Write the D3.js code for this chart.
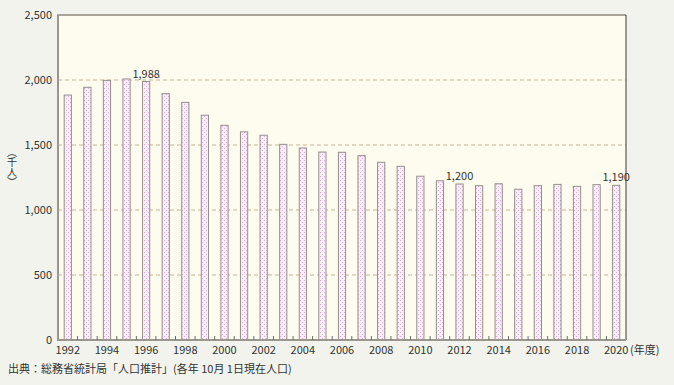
<!DOCTYPE html>
<html>
<head>
<meta charset="utf-8">
<script src="https://cdn.jsdelivr.net/npm/d3@7"></script>
<style>
  body { margin: 0; background: #f1f3ec; }
  svg { display: block; font-family: "Noto Sans CJK JP", "Noto Sans", sans-serif; }
</style>
</head>
<body>
<svg id="canvas" width="674" height="385"></svg>
<script>
/********** Data **********/
var years = d3.range(1992, 2021);
var population = [1884, 1944, 1997, 2008, 1988, 1895, 1828, 1729, 1652, 1601,
                  1575, 1505, 1477, 1446, 1444, 1418, 1367, 1336, 1260, 1225,
                  1200, 1187, 1202, 1160, 1187, 1197, 1182, 1195, 1190];
var yTicks = [0, 500, 1000, 1500, 2000, 2500];
var xLabels = d3.range(1992, 2021, 2);
var callouts = [1996, 2012, 2020];

/********** Setup **********/
var svg = d3.select("#canvas");
var plotLeft = 58, plotRight = 626, plotTop = 15, plotBottom = 340;

var x = d3.scaleBand().domain(years).range([plotLeft, plotRight]).paddingInner(0.58).paddingOuter(0.29);
var y = d3.scaleLinear().domain([0, 2500]).range([plotBottom, plotTop]);

var defs = svg.append("defs");
var pat = defs.append("pattern").attr("id", "dots")
    .attr("patternUnits", "userSpaceOnUse").attr("width", 4).attr("height", 4);
pat.append("rect").attr("width", 4).attr("height", 4).attr("fill", "#f9eef7");
pat.append("rect").attr("x", 0).attr("y", 0).attr("width", 1).attr("height", 1).attr("fill", "#d9a8d6");
pat.append("rect").attr("x", 2).attr("y", 2).attr("width", 1).attr("height", 1).attr("fill", "#d9a8d6");

// plot background
svg.append("rect").attr("x", plotLeft).attr("y", plotTop)
    .attr("width", plotRight - plotLeft).attr("height", plotBottom - plotTop)
    .attr("fill", "#fefcef");

// gridlines
svg.append("g").selectAll("line").data(yTicks.filter(function(d) { return d > 0 && d < 2500; }))
  .enter().append("line")
    .attr("x1", plotLeft).attr("x2", plotRight)
    .attr("y1", function(d) { return y(d); }).attr("y2", function(d) { return y(d); })
    .attr("stroke", "#c4b394").attr("stroke-width", 1).attr("stroke-dasharray", "4,3");

/********** Bars **********/
svg.append("g").selectAll("rect").data(years).enter().append("rect")
    .attr("x", function(d) { return x(d) + 0.5; })
    .attr("y", function(d, i) { return y(population[i]); })
    .attr("width", x.bandwidth() - 1)
    .attr("height", function(d, i) { return plotBottom - y(population[i]); })
    .attr("fill", "url(#dots)")
    .attr("stroke", "#948e8e").attr("stroke-width", 1);

/********** Frame **********/
svg.append("line").attr("x1", plotLeft - 1).attr("x2", plotRight).attr("y1", plotTop).attr("y2", plotTop)
    .attr("stroke", "#a7a59c").attr("stroke-width", 2);
svg.append("line").attr("x1", plotRight).attr("x2", plotRight).attr("y1", plotTop).attr("y2", plotBottom)
    .attr("stroke", "#3a3a3a").attr("stroke-width", 1);
svg.append("line").attr("x1", plotLeft).attr("x2", plotLeft).attr("y1", plotTop).attr("y2", plotBottom + 1)
    .attr("stroke", "#9b978f").attr("stroke-width", 2);
svg.append("line").attr("x1", plotLeft).attr("x2", plotRight).attr("y1", plotBottom).attr("y2", plotBottom)
    .attr("stroke", "#9b978f").attr("stroke-width", 2);

// x ticks at band boundaries, pointing up
var gap = x.step() - x.bandwidth();
svg.append("g").selectAll("line").data(years.slice(1)).enter().append("line")
    .attr("x1", function(d) { return x(d) - gap / 2; })
    .attr("x2", function(d) { return x(d) - gap / 2; })
    .attr("y1", plotBottom).attr("y2", plotBottom - 4)
    .attr("stroke", "#6f6b66").attr("stroke-width", 1);

/********** Labels **********/
svg.append("g").selectAll("text").data(yTicks).enter().append("text")
    .attr("x", 52).attr("y", function(d) { return y(d) + 4; })
    .attr("text-anchor", "end").attr("font-size", 11).attr("fill", "#333")
    .text(function(d) { return d3.format(",")(d); });

svg.append("g").selectAll("text").data(xLabels).enter().append("text")
    .attr("x", function(d) { return x(d) + x.bandwidth() / 2; })
    .attr("y", 354)
    .attr("text-anchor", "middle").attr("font-size", 11).attr("fill", "#333")
    .text(function(d) { return d; });

svg.append("text").attr("x", 630).attr("y", 354).attr("font-size", 11).attr("fill", "#333")
    .text("(年度)");

svg.append("g").selectAll("text").data(callouts).enter().append("text")
    .attr("x", function(d) { return x(d) + x.bandwidth() / 2; })
    .attr("y", function(d) { return y(population[years.indexOf(d)]) - 4; })
    .attr("text-anchor", "middle").attr("font-size", 11).attr("fill", "#333")
    .text(function(d) { return d3.format(",")(population[years.indexOf(d)]); });

// vertical unit label
svg.append("text")
    .attr("x", 12).attr("y", 167)
    .attr("text-anchor", "middle").attr("font-size", 10).attr("fill", "#333")
    .style("writing-mode", "vertical-rl")
    .text("（千人）");

svg.append("text").attr("x", 8).attr("y", 373).attr("font-size", 11).attr("fill", "#333")
    .text("出典：総務省統計局「人口推計」(各年 10月 1日現在人口)");
</script>
</body>
</html>
